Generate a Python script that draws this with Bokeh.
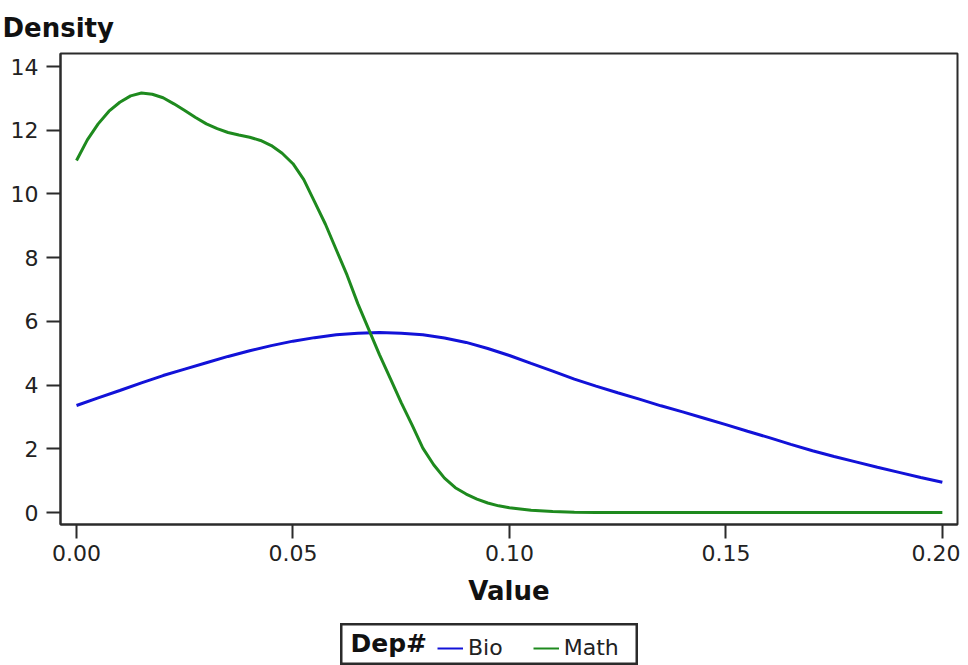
from bokeh.plotting import figure
from bokeh.models import Range1d, Legend, LegendItem, FixedTicker, Label, Spacer
from bokeh.layouts import column, row
from bokeh.embed import file_html
from bokeh.resources import INLINE

# Data
bio_x = [0.000, 0.005, 0.010, 0.015, 0.020, 0.025, 0.030, 0.035, 0.040, 0.045,
         0.050, 0.055, 0.060, 0.065, 0.070, 0.075, 0.080, 0.085, 0.090, 0.095,
         0.100, 0.105, 0.110, 0.115, 0.120, 0.125, 0.130, 0.135, 0.140, 0.145,
         0.150, 0.155, 0.160, 0.165, 0.170, 0.175, 0.180, 0.185, 0.190, 0.195, 0.200]
bio_y = [3.36, 3.60, 3.83, 4.07, 4.30, 4.50, 4.70, 4.90, 5.08, 5.24,
         5.38, 5.49, 5.58, 5.63, 5.65, 5.63, 5.58, 5.48, 5.34, 5.15,
         4.93, 4.68, 4.44, 4.19, 3.97, 3.76, 3.56, 3.35, 3.16, 2.96,
         2.76, 2.55, 2.35, 2.14, 1.94, 1.76, 1.59, 1.42, 1.26, 1.10, 0.95]

math_x = [0.0, 0.0025, 0.005, 0.0075, 0.01, 0.0125, 0.015, 0.0175, 0.02, 0.0225,
          0.025, 0.0275, 0.03, 0.0325, 0.035, 0.0375, 0.04, 0.0425, 0.045, 0.0475,
          0.05, 0.0525, 0.055, 0.0575, 0.06, 0.0625, 0.065, 0.0675, 0.07, 0.0725,
          0.075, 0.0775, 0.08, 0.0825, 0.085, 0.0875, 0.09, 0.0925, 0.095, 0.0975,
          0.10, 0.105, 0.11, 0.115, 0.12, 0.13, 0.14, 0.15, 0.16, 0.17, 0.18, 0.19, 0.20]
math_y = [11.05, 11.70, 12.20, 12.60, 12.88, 13.08, 13.17, 13.13, 13.02, 12.83,
          12.62, 12.40, 12.20, 12.05, 11.93, 11.85, 11.78, 11.68, 11.52, 11.28,
          10.95, 10.45, 9.75, 9.05, 8.25, 7.45, 6.55, 5.75, 4.95, 4.20,
          3.45, 2.75, 2.02, 1.50, 1.08, 0.78, 0.58, 0.42, 0.30, 0.21,
          0.15, 0.07, 0.03, 0.01, 0.0, 0.0, 0.0, 0.0, 0.0, 0.0, 0.0, 0.0, 0.0]

x_ticks = [0.00, 0.05, 0.10, 0.15, 0.20]
x_tick_labels = ["0.00", "0.05", "0.10", "0.15", "0.20"]
y_ticks = [0, 2, 4, 6, 8, 10, 12, 14]

series_names = ["Bio", "Math"]
series_colors = ["#1212D8", "#1E8A1E"]
legend_title = "Dep#"

FONT = "DejaVu Sans"
AX = "#2b2b2b"

p = figure(width=960, height=623, output_backend="svg", toolbar_location=None,
           x_range=Range1d(-0.0037, 0.2035), y_range=Range1d(-0.376, 14.41),
           min_border_left=60, min_border_right=3, min_border_top=53,
           min_border_bottom=99)

p.title.text = "Density"
p.title.align = "left"
p.title.offset = -58
p.title.standoff = 21
p.title.text_font = FONT
p.title.text_font_size = "26px"
p.title.text_font_style = "bold"
p.title.text_color = "#111111"

p.xgrid.visible = False
p.ygrid.visible = False
p.outline_line_color = AX
p.outline_line_width = 2

r_bio = p.line(bio_x, bio_y, line_color=series_colors[0], line_width=3)
r_math = p.line(math_x, math_y, line_color=series_colors[1], line_width=3)

for ax in (p.xaxis[0], p.yaxis[0]):
    ax.axis_line_color = AX
    ax.axis_line_width = 2
    ax.major_tick_line_color = AX
    ax.major_tick_line_width = 2
    ax.major_tick_out = 14
    ax.major_tick_in = 0
    ax.minor_tick_line_color = None
    ax.major_label_text_font = FONT
    ax.major_label_text_font_size = "22px"
    ax.major_label_text_color = "#222222"

p.xaxis.ticker = FixedTicker(ticks=x_ticks)
p.xaxis.major_label_overrides = {t: l for t, l in zip(x_ticks, x_tick_labels)}
p.xaxis.major_label_standoff = 6
p.xaxis.axis_label = "Value"
p.xaxis.axis_label_text_font = FONT
p.xaxis.axis_label_text_font_size = "26px"
p.xaxis.axis_label_text_font_style = "bold"
p.xaxis.axis_label_text_color = "#111111"
p.xaxis.axis_label_standoff = 12

p.yaxis.ticker = FixedTicker(ticks=y_ticks)
p.yaxis.major_label_standoff = 8
p.yaxis.major_label_orientation = "horizontal"

# Legend box as a small separate figure
nan = float("nan")
lg = figure(width=298, height=42, output_backend="svg", toolbar_location=None,
            x_range=Range1d(0, 298), y_range=Range1d(0, 42),
            min_border=0, min_border_left=0, min_border_right=0,
            min_border_top=0, min_border_bottom=0)
lg.axis.visible = False
lg.xgrid.visible = False
lg.ygrid.visible = False
lg.outline_line_color = AX
lg.outline_line_width = 4

g_bio = lg.line([nan], [nan], line_color=series_colors[0], line_width=2)
g_math = lg.line([nan], [nan], line_color=series_colors[1], line_width=2)

lg.add_layout(Label(x=10, y=22, text=legend_title, text_font=FONT,
                    text_font_size="25px", text_font_style="bold",
                    text_color="#111111", text_baseline="alphabetic"))

legend = Legend(items=[LegendItem(label=series_names[0], renderers=[g_bio]),
                       LegendItem(label=series_names[1], renderers=[g_math])],
                orientation="horizontal", location=(97, 5))
legend.label_text_font = FONT
legend.label_text_font_size = "22px"
legend.label_text_color = "#222222"
legend.glyph_width = 26
legend.glyph_height = 20
legend.label_standoff = 5
legend.spacing = 30
legend.border_line_color = None
legend.background_fill_alpha = 0
legend.padding = 0
legend.margin = 0
lg.add_layout(legend, "center")

layout = column(p, row(Spacer(width=340, height=42), lg))

open("out.html", "w").write(file_html(layout, INLINE))
